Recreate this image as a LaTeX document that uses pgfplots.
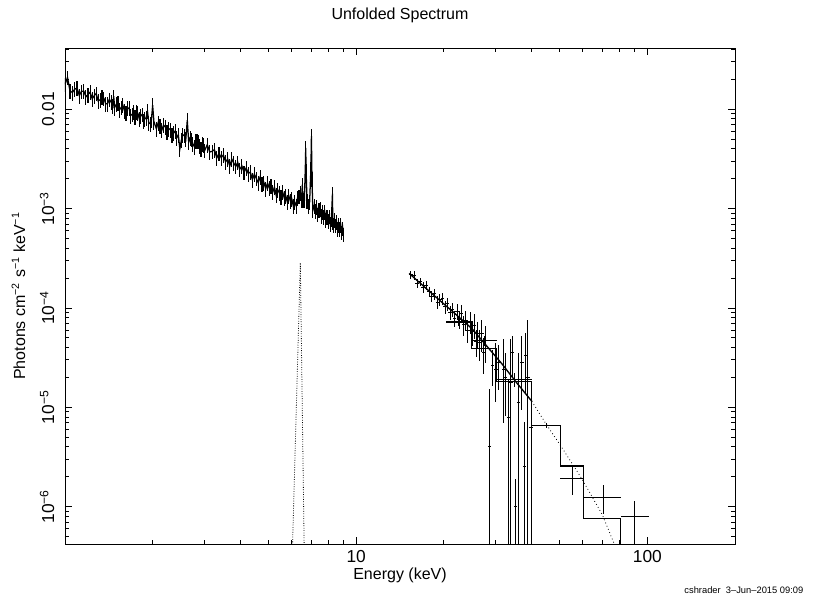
\documentclass[border=0pt]{standalone}
\usepackage{fontspec}
\setmainfont{Liberation Sans}
\usepackage{pgfplots}
\pgfplotsset{compat=1.18}
\begin{document}
\begin{tikzpicture}
\useasboundingbox (-48.75pt,-44.25pt) rectangle (564pt,408pt);
\begin{axis}[
  at={(0pt,0pt)}, anchor=south west,
  scale only axis, width=502.5pt, height=372pt,
  xmode=log, ymode=log,
  xmin=1, xmax=200, ymin=4.2e-7, ymax=0.0413,
  xtick={10,100}, xticklabels={10,100},
  minor xtick={2,3,4,5,6,7,8,9,20,30,40,50,60,70,80,90},
  ytick={1e-6,1e-5,1e-4,1e-3,1e-2},
  yticklabels={10\textsuperscript{−6},10\textsuperscript{−5},10\textsuperscript{−4},10\textsuperscript{−3},0.01},
  minor ytick={5e-7,6e-7,7e-7,8e-7,9e-7,2e-6,3e-6,4e-6,5e-6,6e-6,7e-6,8e-6,9e-6,2e-5,3e-5,4e-5,5e-5,6e-5,7e-5,8e-5,9e-5,2e-4,3e-4,4e-4,5e-4,6e-4,7e-4,8e-4,9e-4,2e-3,3e-3,4e-3,5e-3,6e-3,7e-3,8e-3,9e-3,2e-2,3e-2,4e-2},
  tick align=inside,
  major tick length=5pt, minor tick length=3pt,
  every tick/.style={black, line width=0.5pt},
  axis line style={line width=0.6pt},
  tick label style={font=\fontsize{13}{15}\selectfont},
  yticklabel style={rotate=90, anchor=south},
  yticklabel shift=4.5pt,
  xticklabel shift=1.5pt,
  title={Unfolded Spectrum},
  title style={at={(axis description cs:0.5,1.0665)}, anchor=center, yshift=-6pt, font=\fontsize{12}{14}\selectfont},
  xlabel={Energy (keV)},
  xlabel style={at={(axis description cs:0.5,-0.0625)}, anchor=center, font=\fontsize{12}{14}\selectfont},
  ylabel={Photons cm\textsuperscript{−2} s\textsuperscript{−1} keV\textsuperscript{−1}},
  ylabel style={at={(axis description cs:-0.0694,0.5)}, anchor=center, font=\fontsize{12}{14}\selectfont},
]
% soft X-ray data (dense channels)
\addplot[black, line width=0.95pt, mark=none,
  error bars/.cd, y dir=both, y fixed relative=0.17, error mark=none,
  error bar style={line width=0.85pt}] table {
x y
1.00 1.778e-2
1.02 2.089e-2
1.04 1.535e-2
1.06 1.472e-2
1.08 1.589e-2
1.10 1.637e-2
1.12 1.371e-2
1.14 1.514e-2
1.16 1.521e-2
1.18 1.334e-2
1.20 1.406e-2
1.22 1.483e-2
1.24 1.271e-2
1.26 1.368e-2
1.28 1.442e-2
1.30 1.208e-2
1.32 1.245e-2
1.34 1.343e-2
1.36 1.288e-2
1.38 1.130e-2
1.40 1.138e-2
1.42 1.256e-2
1.44 1.180e-2
1.46 1.081e-2
1.47 1.349e-2
1.48 1.040e-2
1.50 1.122e-2
1.52 1.156e-2
1.54 9.908e-3
1.56 1.042e-2
1.58 1.099e-2
1.60 9.638e-3
1.62 9.268e-3
1.64 1.023e-2
1.66 1.028e-2
1.68 8.610e-3
1.70 8.872e-3
1.72 9.354e-3
1.74 8.395e-3
1.76 9.462e-3
1.78 9.099e-3
1.80 7.980e-3
1.82 8.610e-3
1.84 8.872e-3
1.86 7.586e-3
1.88 7.998e-3
1.90 8.241e-3
1.92 9.550e-3
1.94 7.278e-3
1.96 7.145e-3
1.98 7.709e-3
2.00 1.096e-2
2.02 7.482e-3
2.06 6.353e-3
2.09 7.328e-3
2.12 6.855e-3
2.15 6.138e-3
2.18 6.918e-3
2.21 6.622e-3
2.24 5.929e-3
2.27 6.368e-3
2.30 6.252e-3
2.33 5.470e-3
2.36 5.741e-3
2.39 6.039e-3
2.42 5.152e-3
2.45 5.546e-3
2.48 3.981e-3
2.51 4.875e-3
2.54 5.521e-3
2.57 5.445e-3
2.60 5.012e-3
2.63 7.762e-3
2.66 4.656e-3
2.69 5.152e-3
2.72 4.966e-3
2.75 4.467e-3
2.78 4.207e-3
2.81 4.764e-3
2.84 4.808e-3
2.87 4.742e-3
2.90 4.266e-3
2.93 4.018e-3
2.96 4.446e-3
2.99 4.385e-3
3.02 3.855e-3
3.08 4.385e-3
3.14 3.707e-3
3.20 3.767e-3
3.26 3.917e-3
3.32 3.236e-3
3.38 3.597e-3
3.44 3.258e-3
3.50 3.467e-3
3.56 2.944e-3
3.62 3.148e-3
3.68 2.679e-3
3.74 3.141e-3
3.80 2.858e-3
3.86 2.661e-3
3.92 2.911e-3
3.98 2.477e-3
4.05 2.685e-3
4.12 2.312e-3
4.19 2.559e-3
4.26 2.254e-3
4.33 2.328e-3
4.40 1.959e-3
4.47 2.223e-3
4.54 2.009e-3
4.61 1.820e-3
4.68 2.080e-3
4.75 1.758e-3
4.82 1.828e-3
4.89 1.585e-3
4.96 1.807e-3
5.03 1.607e-3
5.10 1.683e-3
5.17 1.466e-3
5.24 1.644e-3
5.31 1.371e-3
5.38 1.538e-3
5.45 1.435e-3
5.52 1.309e-3
5.59 1.469e-3
5.66 1.282e-3
5.73 1.343e-3
5.80 1.169e-3
5.87 1.343e-3
5.94 1.197e-3
6.01 1.253e-3
6.08 1.067e-3
6.15 1.167e-3
6.22 1.069e-3
6.29 1.288e-3
6.36 1.324e-3
6.43 1.449e-3
6.50 1.230e-3
6.53 1.738e-3
6.57 1.227e-3
6.64 1.216e-3
6.69 2.630e-3
6.71 4.074e-3
6.73 2.399e-3
6.78 1.191e-3
6.85 1.064e-3
6.92 1.167e-3
6.99 2.512e-3
7.02 5.370e-3
7.05 1.995e-3
7.10 9.616e-4
7.17 1.057e-3
7.24 9.462e-4
7.31 1.045e-3
7.38 8.750e-4
7.45 9.661e-4
7.52 9.931e-4
7.59 8.453e-4
7.66 9.290e-4
7.73 8.279e-4
7.80 9.290e-4
7.87 7.727e-4
7.94 8.279e-4
8.01 7.568e-4
8.08 8.356e-4
8.15 6.998e-4
8.22 7.907e-4
8.29 1.413e-3
8.31 7.396e-4
8.36 6.823e-4
8.43 7.709e-4
8.50 6.761e-4
8.57 7.278e-4
8.64 6.209e-4
8.71 6.839e-4
8.78 6.252e-4
8.85 6.887e-4
8.92 5.754e-4
8.99 6.324e-4
9.03 5.495e-4
};
% Gaussian line component (dotted)
\addplot[black, line width=0.6pt, dash pattern=on 0.6pt off 1.2pt] coordinates {(6.04,3.7e-7) (6.43,2.85e-4) (6.63,3.7e-7)};
% hard X-ray data (dense)
\addplot[black, only marks, mark=text, text mark={},
  error bars/.cd, x dir=both, x fixed relative=0.014, y dir=both, y explicit, error mark=none,
  error bar style={line width=0.75pt}]
  table[x=x, y=y, y error plus=ep, y error minus=em] {
x y ep em
15.4 2.153e-4 2.15e-5 2.15e-5
15.8 2.123e-4 2.12e-5 2.12e-5
16.2 1.778e-4 1.78e-5 1.78e-5
16.6 1.832e-4 1.83e-5 1.83e-5
17.0 1.611e-4 1.93e-5 1.93e-5
17.4 1.698e-4 1.70e-5 1.70e-5
17.8 1.455e-4 1.75e-5 1.75e-5
18.2 1.309e-4 1.57e-5 1.57e-5
18.6 1.380e-4 1.66e-5 1.66e-5
19.0 1.143e-4 1.60e-5 1.60e-5
19.4 1.219e-4 1.71e-5 1.71e-5
19.8 1.242e-4 1.74e-5 1.74e-5
20.2 1.028e-4 1.54e-5 1.54e-5
20.6 1.096e-4 1.64e-5 1.64e-5
21.0 9.078e-5 1.45e-5 1.45e-5
21.4 9.683e-5 1.55e-5 1.55e-5
21.8 7.852e-5 1.41e-5 1.41e-5
22.2 9.247e-5 1.66e-5 1.66e-5
22.6 7.709e-5 1.54e-5 1.54e-5
23.0 8.851e-5 1.77e-5 1.77e-5
23.4 6.730e-5 1.48e-5 1.48e-5
23.8 7.551e-5 1.66e-5 1.66e-5
24.2 5.875e-5 1.47e-5 1.47e-5
24.6 7.228e-5 1.81e-5 1.81e-5
25.0 5.754e-5 1.61e-5 1.61e-5
25.4 6.714e-5 1.88e-5 1.88e-5
25.8 4.624e-5 1.39e-5 1.39e-5
26.2 5.521e-5 1.66e-5 1.66e-5
26.6 4.457e-5 1.56e-5 1.56e-5
27.0 5.585e-5 1.95e-5 1.95e-5
27.4 3.581e-5 1.43e-5 1.43e-5
27.8 4.688e-5 1.88e-5 1.88e-5
28.7 4.064e-6 1.104e-5 4.0e-6
29.4 2.630e-5 1.18e-5 1.00e-5
30.2 2.399e-5 2.08e-5 1.28e-5
30.9 2.818e-5 1.46e-5 1.31e-5
32.1 2.399e-5 2.41e-5 1.70e-5
32.5 1.995e-5 1.54e-5 1.18e-5
33.4 7.943e-6 1.11e-5 7.90e-6
34.0 1.778e-5 3.03e-5 1.77e-5
34.4 3.548e-5 1.64e-5 1.57e-5
35.2 1.0e-6 8.8e-7 9.9e-7
36.1 1.122e-5 2.41e-5 1.11e-5
37.1 2.818e-5 2.37e-5 1.87e-5
37.9 2.512e-6 4.52e-6 2.50e-6
38.1 3.311e-5 2.34e-5 1.91e-5
38.9 1.995e-5 5.63e-5 1.99e-5
39.9 6.310e-6 1.13e-5 6.30e-6
};
% model for the dense hard data (solid)
\addplot[black, line width=1pt] coordinates {(15.2,2.22e-4) (15.3,2.188e-4) (18.6,1.318e-4) (21.5,9.120e-5) (25.0,6.166e-5) (28.0,4.169e-5) (31.6,2.754e-5) (35.5,1.778e-5) (40.1,1.148e-5)};
% model continuation (dotted)
\addplot[black, line width=0.6pt, dash pattern=on 0.6pt off 2pt] coordinates {(40.1,1.148e-5) (44.6,6.982e-6) (50.9,3.917e-6) (59.7,1.884e-6) (69.9,8.375e-7) (77,4.2e-7) (80,2.818e-7)};
% binned model (step histogram)
\addplot[black, line width=0.9pt] coordinates {(20.4,7.079e-5) (24.9,7.079e-5) (24.9,3.873e-5) (30.4,3.873e-5) (30.4,1.820e-5) (40.1,1.820e-5) (40.1,6.607e-6) (50.2,6.607e-6) (50.2,2.559e-6) (60.5,2.559e-6) (60.5,7.621e-7) (80.9,7.621e-7) (80.9,1e-7)};
% binned data (crosses)
\addplot[black, only marks, mark=text, text mark={},
  error bars/.cd, x dir=both, x explicit, y dir=both, y explicit, error mark=none,
  error bar style={line width=0.8pt}]
  table[x=x, y=y, x error plus=exp, x error minus=exm, y error plus=eyp, y error minus=eym] {
x y exm exp eym eyp
22.5 7.328e-5 2.1 2.4 7.3e-6 7.3e-6
27.5 4.677e-5 2.6 2.9 5.6e-6 5.6e-6
34.9 1.905e-5 4.5 5.2 2.9e-6 2.9e-6
45.2 6.607e-6 5.1 5.0 4.0e-7 4.0e-7
55.4 1.91e-6 5.2 5.1 6.0e-7 6.5e-7
70.5 1.24e-6 10.0 10.4 4.0e-7 4.0e-7
90.5 7.9e-7 9.6 10.9 3.4e-7 3.5e-7
};
\end{axis}
\node[anchor=east, font=\fontsize{7}{8}\selectfont] at (557.25pt,-34.5pt) {cshrader\ \ 3–Jun–2015 09:09};
\end{tikzpicture}
\end{document}
